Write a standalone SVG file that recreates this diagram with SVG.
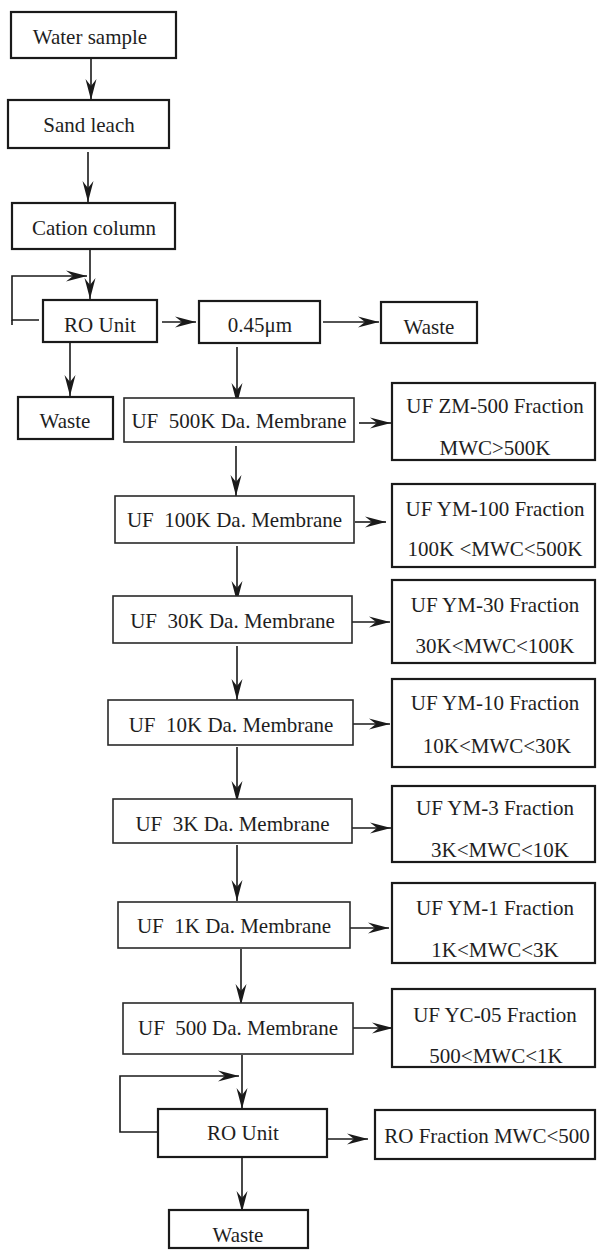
<svg xmlns="http://www.w3.org/2000/svg" width="597" height="1250" viewBox="0 0 597 1250">
  <style>
    .box { fill: #ffffff; stroke: #1a1a1a; stroke-width: 2.2; }
    .thin { fill: #ffffff; stroke: #2a2a2a; stroke-width: 1.6; }
    .lbl { font-family: "Liberation Serif", "Times New Roman", serif; font-size: 21px; fill: #1e1e1e; text-anchor: middle; }
    .wire { fill: none; stroke: #1a1a1a; stroke-width: 1.6; marker-end: url(#head); }
    .wire-plain { fill: none; stroke: #1a1a1a; stroke-width: 1.6; }
  </style>
  <defs>
    <!-- notched arrowhead with swept-back barbs, tip at the path end -->
    <marker id="head" markerUnits="userSpaceOnUse" markerWidth="24" markerHeight="13" refX="21" refY="6" orient="auto" overflow="visible">
      <path d="M0,0.5 L21,6 L0,11.5 L7,6 Z" fill="#1a1a1a"/>
    </marker>
  </defs>

  <!-- connectors -->
  <g id="connectors">
    <path class="wire" d="M91,59 V100"/>
    <path class="wire" d="M88,152 V202"/>
    <path class="wire" d="M90,249 V299"/>
    <path class="wire" d="M39,320 H12 V276 H87"/>
    <path class="wire-plain" d="M12,320 V325"/>
    <path class="wire" d="M162,322 H196"/>
    <path class="wire" d="M323,322 H379"/>
    <path class="wire" d="M70,343 V396"/>
    <path class="wire" d="M237,347 V404"/>
    <path class="wire" d="M359,423 H391"/>
    <path class="wire" d="M236,446 V496"/>
    <path class="wire" d="M355,522 H386"/>
    <path class="wire" d="M237,546 V602"/>
    <path class="wire" d="M352,622 H390"/>
    <path class="wire" d="M237,646 V700"/>
    <path class="wire" d="M353,724 H390"/>
    <path class="wire" d="M237,747 V802"/>
    <path class="wire" d="M350,828 H391"/>
    <path class="wire" d="M237,845 V901"/>
    <path class="wire" d="M350,928 H389"/>
    <path class="wire" d="M241,949 V1005"/>
    <path class="wire" d="M353,1028 H393"/>
    <path class="wire" d="M242,1055 V1109"/>
    <path class="wire" d="M157,1132 H120 V1076 H239"/>
    <path class="wire" d="M327,1139 H368"/>
    <path class="wire" d="M242,1157 V1212"/>
  </g>

  <!-- input chain -->
  <g id="water-sample">
    <rect class="box" x="11" y="12" width="165" height="46"/>
    <text class="lbl" x="90" y="44">Water sample</text>
  </g>
  <g id="sand-leach">
    <rect class="box" x="8" y="100" width="161" height="48"/>
    <text class="lbl" x="89" y="132">Sand leach</text>
  </g>
  <g id="cation-column">
    <rect class="box" x="12" y="203" width="163" height="46"/>
    <text class="lbl" x="94" y="235">Cation column</text>
  </g>
  <g id="ro-unit-1">
    <rect class="box" x="43" y="300" width="114" height="42"/>
    <text class="lbl" x="100" y="332">RO Unit</text>
  </g>
  <g id="filter-045">
    <rect class="box" x="199" y="301" width="121" height="42"/>
    <text class="lbl" x="260" y="332">0.45μm</text>
  </g>
  <g id="waste-filter">
    <rect class="box" x="381" y="302" width="96" height="41"/>
    <text class="lbl" x="429" y="334">Waste</text>
  </g>
  <g id="waste-ro-1">
    <rect class="box" x="18" y="397" width="95" height="42"/>
    <text class="lbl" x="65" y="428">Waste</text>
  </g>

  <!-- ultrafiltration cascade -->
  <g id="uf-500k">
    <rect class="thin" x="124" y="398" width="230" height="44"/>
    <text class="lbl" x="239" y="428" xml:space="preserve">UF  500K Da. Membrane</text>
  </g>
  <g id="frac-zm500">
    <rect class="box" x="392" y="383" width="203" height="77"/>
    <text class="lbl" x="495" y="413">UF ZM-500 Fraction</text>
    <text class="lbl" x="495" y="455">MWC&gt;500K</text>
  </g>

  <g id="uf-100k">
    <rect class="thin" x="115" y="496" width="239" height="47"/>
    <text class="lbl" x="234.5" y="527" xml:space="preserve">UF  100K Da. Membrane</text>
  </g>
  <g id="frac-ym100">
    <rect class="box" x="392" y="484" width="203" height="83"/>
    <text class="lbl" x="495" y="516">UF YM-100 Fraction</text>
    <text class="lbl" x="495" y="556">100K &lt;MWC&lt;500K</text>
  </g>

  <g id="uf-30k">
    <rect class="thin" x="113" y="596" width="239" height="47"/>
    <text class="lbl" x="232.5" y="628" xml:space="preserve">UF  30K Da. Membrane</text>
  </g>
  <g id="frac-ym30">
    <rect class="box" x="392" y="580" width="203" height="83"/>
    <text class="lbl" x="495" y="612">UF YM-30 Fraction</text>
    <text class="lbl" x="495" y="653">30K&lt;MWC&lt;100K</text>
  </g>

  <g id="uf-10k">
    <rect class="thin" x="108" y="700" width="245" height="45"/>
    <text class="lbl" x="231" y="732" xml:space="preserve">UF  10K Da. Membrane</text>
  </g>
  <g id="frac-ym10">
    <rect class="box" x="392" y="679" width="203" height="88"/>
    <text class="lbl" x="495" y="710">UF YM-10 Fraction</text>
    <text class="lbl" x="497" y="753">10K&lt;MWC&lt;30K</text>
  </g>

  <g id="uf-3k">
    <rect class="thin" x="113" y="799" width="239" height="44"/>
    <text class="lbl" x="232.5" y="831" xml:space="preserve">UF  3K Da. Membrane</text>
  </g>
  <g id="frac-ym3">
    <rect class="box" x="392" y="786" width="203" height="76"/>
    <text class="lbl" x="495" y="815">UF YM-3 Fraction</text>
    <text class="lbl" x="500" y="857">3K&lt;MWC&lt;10K</text>
  </g>

  <g id="uf-1k">
    <rect class="thin" x="118" y="902" width="232" height="46"/>
    <text class="lbl" x="234" y="933" xml:space="preserve">UF  1K Da. Membrane</text>
  </g>
  <g id="frac-ym1">
    <rect class="box" x="392" y="883" width="203" height="80"/>
    <text class="lbl" x="495" y="915">UF YM-1 Fraction</text>
    <text class="lbl" x="495" y="957">1K&lt;MWC&lt;3K</text>
  </g>

  <g id="uf-500">
    <rect class="thin" x="123" y="1003" width="230" height="51"/>
    <text class="lbl" x="238" y="1035" xml:space="preserve">UF  500 Da. Membrane</text>
  </g>
  <g id="frac-yc05">
    <rect class="box" x="392" y="989" width="203" height="78"/>
    <text class="lbl" x="495" y="1022">UF YC-05 Fraction</text>
    <text class="lbl" x="496" y="1063">500&lt;MWC&lt;1K</text>
  </g>

  <!-- final reverse osmosis stage -->
  <g id="ro-unit-2">
    <rect class="box" x="158" y="1109" width="169" height="48"/>
    <text class="lbl" x="243" y="1140">RO Unit</text>
  </g>
  <g id="frac-ro">
    <rect class="box" x="375" y="1110" width="220" height="49"/>
    <text class="lbl" x="487" y="1143">RO Fraction MWC&lt;500</text>
  </g>
  <g id="waste-ro-2">
    <rect class="box" x="169" y="1210" width="139" height="38"/>
    <text class="lbl" x="238" y="1242">Waste</text>
  </g>
</svg>
